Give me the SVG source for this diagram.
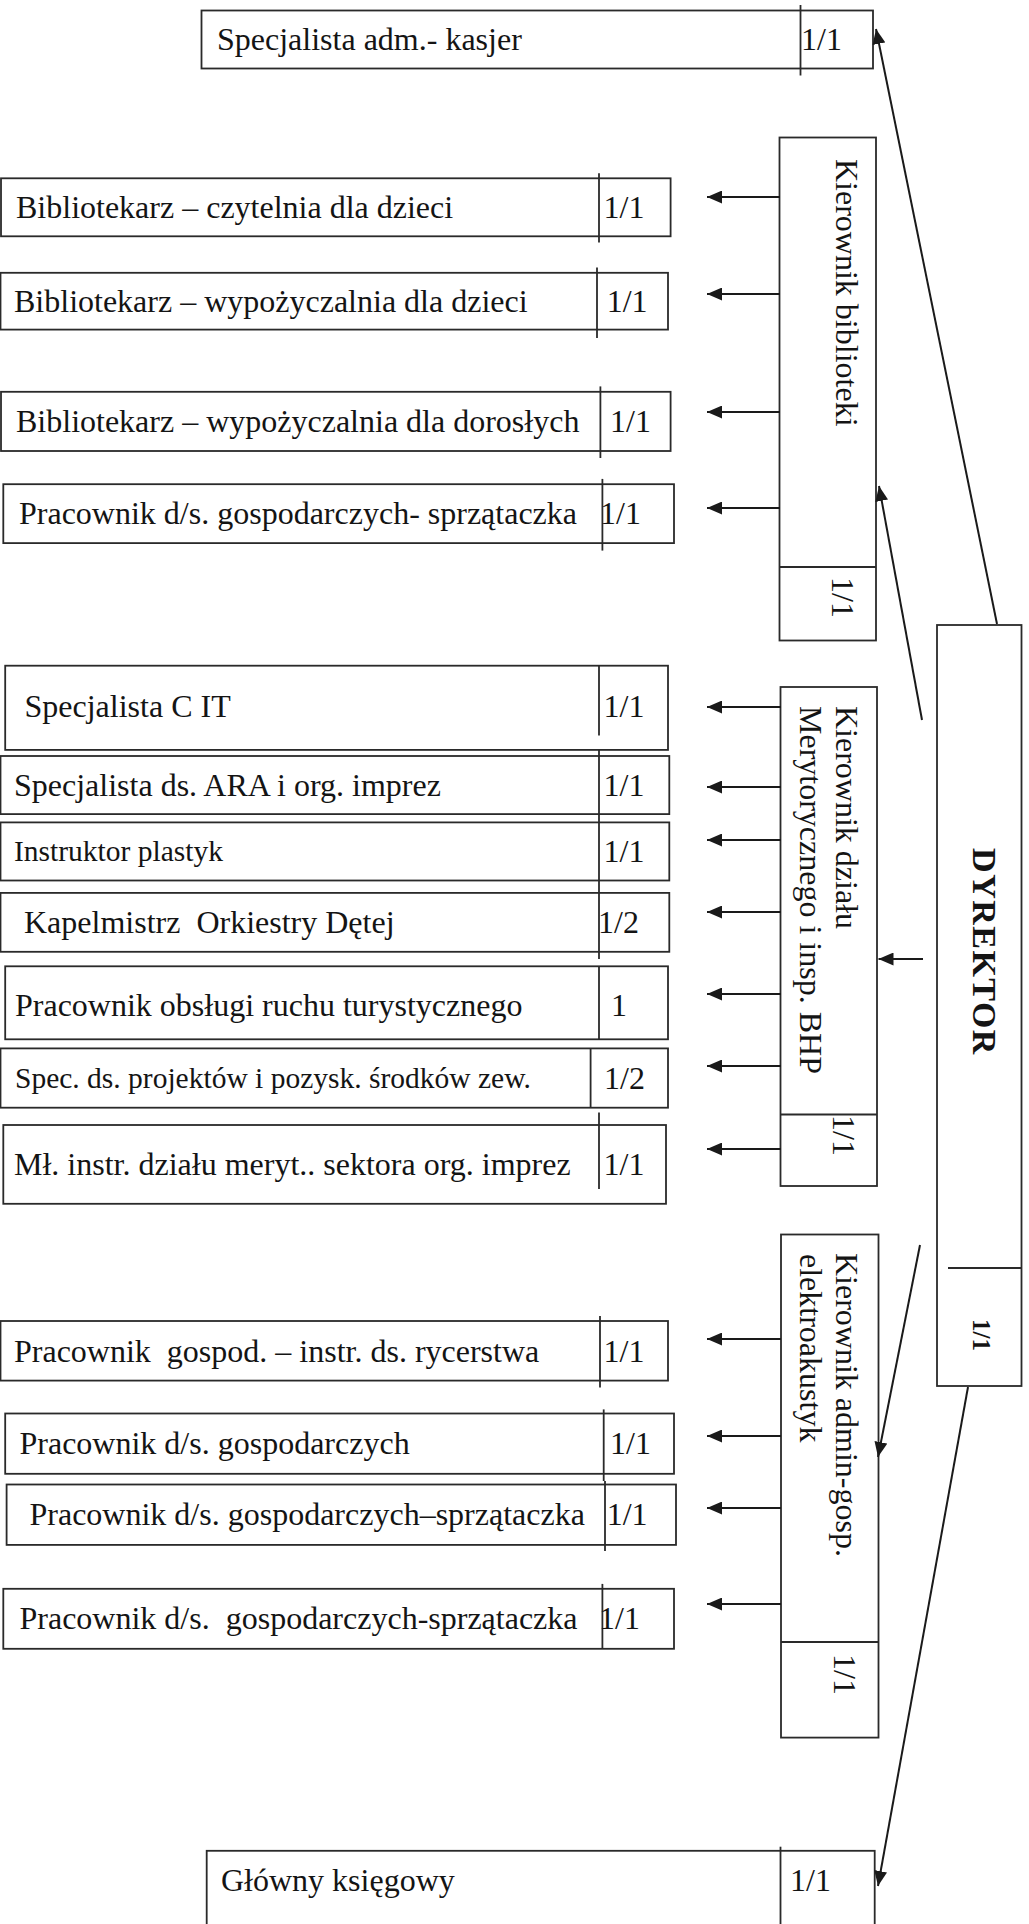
<svg xmlns="http://www.w3.org/2000/svg" width="1029" height="1924" viewBox="0 0 1029 1924">
<style>
  .bg { fill: #ffffff; }
  .box { fill: none; stroke: #2a2a2a; stroke-width: 1.8; }
  .div { stroke: #2a2a2a; stroke-width: 1.8; }
  .t { font-family: "Liberation Serif", "Times New Roman", serif; font-size: 32px; fill: #141414; }
  .ts { font-family: "Liberation Serif", "Times New Roman", serif; font-size: 29.5px; fill: #141414; }
  .tb { font-family: "Liberation Serif", "Times New Roman", serif; font-weight: bold; fill: #141414; }
  .conn { stroke: #1a1a1a; stroke-width: 2; fill: none; marker-end: url(#ah); }
</style>
<defs>
  <marker id="ah" markerUnits="userSpaceOnUse" markerWidth="15" markerHeight="13" refX="15" refY="6.5" orient="auto">
    <path d="M0,0 L15,6.5 L0,13 z" fill="#1a1a1a"/>
  </marker>
</defs>
<rect class="bg" x="0" y="0" width="1029" height="1924"/>

<g id="spec-adm">
  <rect class="box" x="201.5" y="10.5" width="671.5" height="58"/>
  <line class="div" x1="800.5" y1="5" x2="800.5" y2="75.5"/>
  <text class="t" x="217" y="50">Specjalista adm.- kasjer</text>
  <text class="t" x="801" y="50">1/1</text>
</g>

<g id="kier-biblioteki">
  <rect class="box" x="779.5" y="137.5" width="96.5" height="503"/>
  <line class="div" x1="779.5" y1="567" x2="876" y2="567"/>
  <text class="t" transform="translate(836,159) rotate(90)">Kierownik biblioteki</text>
  <text class="t" transform="translate(832,577) rotate(90)">1/1</text>
</g>

<g id="bib-czytelnia">
  <rect class="box" x="1" y="178.3" width="669.6" height="58"/>
  <line class="div" x1="599" y1="173.3" x2="599" y2="242.5"/>
  <text class="t" x="16" y="217.5">Bibliotekarz – czytelnia dla dzieci</text>
  <text class="t" x="603.5" y="217.5">1/1</text>
</g>

<g id="bib-wyp-dzieci">
  <rect class="box" x="0.5" y="272.8" width="667.5" height="56.8"/>
  <line class="div" x1="597" y1="267.4" x2="597" y2="338"/>
  <text class="t" x="14" y="312">Bibliotekarz – wypożyczalnia dla dzieci</text>
  <text class="t" x="606.7" y="312">1/1</text>
</g>

<g id="bib-wyp-doroslych">
  <rect class="box" x="1" y="391.8" width="669.6" height="59.2"/>
  <line class="div" x1="600.4" y1="386.4" x2="600.4" y2="458"/>
  <text class="t" x="16" y="432">Bibliotekarz – wypożyczalnia dla dorosłych</text>
  <text class="t" x="610" y="432">1/1</text>
</g>

<g id="prac-sprz-1">
  <rect class="box" x="3.3" y="484.2" width="670.7" height="58.9"/>
  <line class="div" x1="602.4" y1="478.9" x2="602.4" y2="550.6"/>
  <text class="t" x="19" y="524">Pracownik d/s. gospodarczych- sprzątaczka</text>
  <text class="t" x="600" y="524">1/1</text>
</g>

<g id="dyrektor">
  <rect class="box" x="937" y="625" width="84.5" height="761"/>
  <line class="div" x1="948" y1="1268" x2="1021.5" y2="1268"/>
  <text class="tb" font-size="34" letter-spacing="1.5" text-anchor="middle" transform="translate(973,952) rotate(90)">DYREKTOR</text>
  <text class="tb" font-size="25" transform="translate(973,1319) rotate(90)">1/1</text>
</g>

<g id="kier-merytoryczny">
  <rect class="box" x="780.5" y="687" width="96.5" height="499"/>
  <line class="div" x1="780.5" y1="1114.5" x2="877" y2="1114.5"/>
  <text class="t" transform="translate(836,706) rotate(90)">Kierownik działu</text>
  <text class="t" transform="translate(800,706) rotate(90)">Merytorycznego i insp. BHP</text>
  <text class="t" transform="translate(833,1115) rotate(90)">1/1</text>
</g>

<g id="spec-cit">
  <rect class="box" x="5.2" y="665.7" width="662.8" height="84.2"/>
  <line class="div" x1="599" y1="665.7" x2="599" y2="735.4"/>
  <text class="t" x="24.5" y="717">Specjalista C IT</text>
  <text class="t" x="603.5" y="717">1/1</text>
</g>

<g id="spec-ara">
  <rect class="box" x="0.5" y="756" width="668.8" height="58.1"/>
  <text class="t" x="14" y="795.5">Specjalista ds. ARA i org. imprez</text>
  <text class="t" x="603.5" y="795.5">1/1</text>
</g>

<g id="instruktor">
  <rect class="box" x="0.5" y="822.4" width="668.8" height="58.1"/>
  <text class="ts" x="14" y="860.5">Instruktor plastyk</text>
  <text class="t" x="603.5" y="861.5">1/1</text>
</g>

<g id="kapelmistrz">
  <rect class="box" x="0.5" y="892.9" width="668.8" height="58.9"/>
  <text class="t" x="24" y="933" xml:space="preserve">Kapelmistrz  Orkiestry Dętej</text>
  <text class="t" x="598" y="933">1/2</text>
</g>

<line id="divider-ara-kapel" class="div" x1="599" y1="750" x2="599" y2="959"/>

<g id="prac-obslugi">
  <rect class="box" x="5.2" y="966.3" width="662.8" height="73"/>
  <line class="div" x1="599" y1="966.3" x2="599" y2="1039.3"/>
  <text class="t" x="15" y="1015.5">Pracownik obsługi ruchu turystycznego</text>
  <text class="t" x="611" y="1015.5">1</text>
</g>

<g id="spec-projektow">
  <rect class="box" x="0.5" y="1048.4" width="667.5" height="59.3"/>
  <line class="div" x1="590.6" y1="1048.4" x2="590.6" y2="1107.7"/>
  <text class="ts" x="15" y="1088">Spec. ds. projektów i pozysk. środków zew.</text>
  <text class="t" x="604" y="1089">1/2</text>
</g>

<g id="ml-instr">
  <rect class="box" x="3.3" y="1125" width="662.7" height="78.8"/>
  <line class="div" x1="599" y1="1112.6" x2="599" y2="1189"/>
  <text class="t" x="14" y="1175">Mł. instr. działu meryt.. sektora org. imprez</text>
  <text class="t" x="603.5" y="1175">1/1</text>
</g>

<g id="kier-admin">
  <rect class="box" x="781" y="1234.5" width="97.5" height="503.1"/>
  <line class="div" x1="781" y1="1642" x2="878.5" y2="1642"/>
  <text class="t" transform="translate(836,1253) rotate(90)">Kierownik admin-gosp.</text>
  <text class="t" transform="translate(800,1254) rotate(90)">elektroakustyk</text>
  <text class="t" transform="translate(834,1654) rotate(90)">1/1</text>
</g>

<g id="prac-rycerstwa">
  <rect class="box" x="0.5" y="1321" width="667.5" height="59.6"/>
  <line class="div" x1="600" y1="1316" x2="600" y2="1387.6"/>
  <text class="t" x="14" y="1361.5" xml:space="preserve">Pracownik  gospod. – instr. ds. rycerstwa</text>
  <text class="t" x="603.5" y="1361.5">1/1</text>
</g>

<g id="prac-gosp">
  <rect class="box" x="5.2" y="1413.5" width="668.8" height="60.3"/>
  <line class="div" x1="603.7" y1="1409.4" x2="603.7" y2="1481"/>
  <text class="t" x="19.5" y="1454">Pracownik d/s. gospodarczych</text>
  <text class="t" x="610" y="1454">1/1</text>
</g>

<g id="prac-sprz-2">
  <rect class="box" x="6.6" y="1484.5" width="669.4" height="60.4"/>
  <line class="div" x1="605" y1="1481" x2="605" y2="1551"/>
  <text class="t" x="29.5" y="1525">Pracownik d/s. gospodarczych–sprzątaczka</text>
  <text class="t" x="606.7" y="1525">1/1</text>
</g>

<g id="prac-sprz-3">
  <rect class="box" x="3.3" y="1588.8" width="670.7" height="60"/>
  <line class="div" x1="602.4" y1="1583.9" x2="602.4" y2="1648.8"/>
  <text class="t" x="19.5" y="1629" xml:space="preserve">Pracownik d/s.  gospodarczych-sprzątaczka</text>
  <text class="t" x="599" y="1629">1/1</text>
</g>

<g id="glowny-ksiegowy">
  <rect class="box" x="206.7" y="1850.8" width="668" height="100"/>
  <line class="div" x1="780.5" y1="1846.7" x2="780.5" y2="1930"/>
  <text class="t" x="221" y="1891">Główny księgowy</text>
  <text class="t" x="790" y="1891">1/1</text>
</g>

<g id="connectors">
  <line class="conn" x1="997" y1="624" x2="876" y2="29"/>
  <line class="conn" x1="922" y1="720" x2="879" y2="486"/>
  <line class="conn" x1="923" y1="959" x2="878.5" y2="959"/>
  <line class="conn" x1="920" y1="1245" x2="878" y2="1457"/>
  <line class="conn" x1="968" y1="1387" x2="878" y2="1886"/>
  <line class="conn" x1="780" y1="197" x2="707" y2="197"/>
  <line class="conn" x1="780" y1="294" x2="707" y2="294"/>
  <line class="conn" x1="780" y1="412" x2="707" y2="412"/>
  <line class="conn" x1="780" y1="508" x2="707" y2="508"/>
  <line class="conn" x1="781" y1="707" x2="707" y2="707"/>
  <line class="conn" x1="781" y1="787" x2="707" y2="787"/>
  <line class="conn" x1="781" y1="840" x2="707" y2="840"/>
  <line class="conn" x1="781" y1="912" x2="707" y2="912"/>
  <line class="conn" x1="781" y1="994" x2="707" y2="994"/>
  <line class="conn" x1="781" y1="1066" x2="707" y2="1066"/>
  <line class="conn" x1="781" y1="1149" x2="707" y2="1149"/>
  <line class="conn" x1="781" y1="1339" x2="707" y2="1339"/>
  <line class="conn" x1="781" y1="1436" x2="707" y2="1436"/>
  <line class="conn" x1="781" y1="1508" x2="707" y2="1508"/>
  <line class="conn" x1="781" y1="1604" x2="707" y2="1604"/>
</g>
</svg>
